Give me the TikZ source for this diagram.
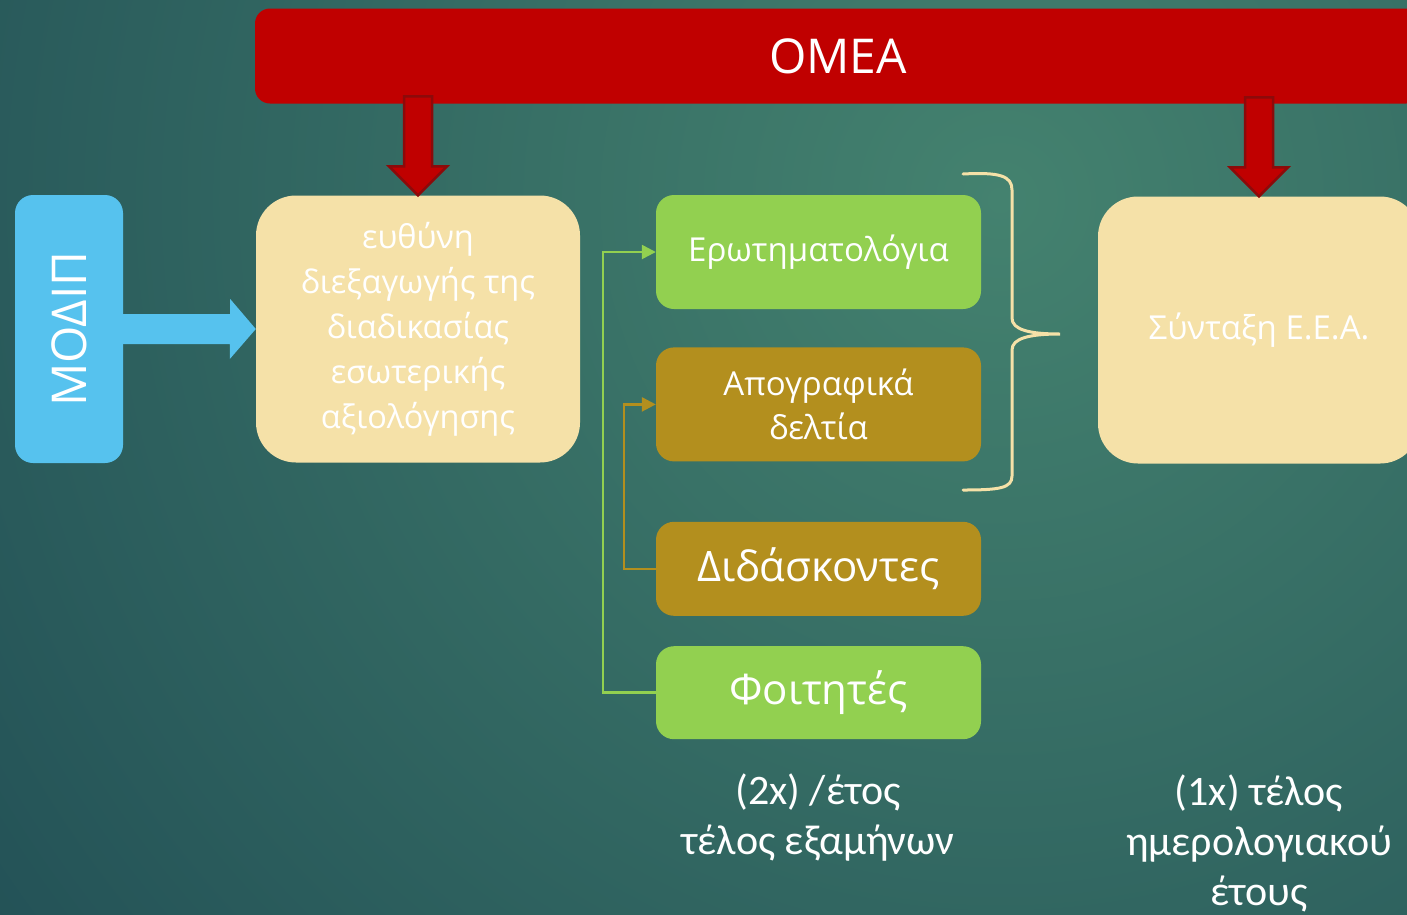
\documentclass[tikz,border=0pt]{standalone}
\usepackage{fontspec}
\setmainfont{Open Sans}
\newfontfamily\calfont{Carlito}
\usetikzlibrary{positioning, calc, arrows.meta}

\definecolor{bgin}{HTML}{44826F}
\definecolor{bgout}{HTML}{1A4450}
\definecolor{omeared}{HTML}{C00000}
\definecolor{darkred}{HTML}{8C0A0A}
\definecolor{modipblue}{HTML}{56C2EE}
\definecolor{cream}{HTML}{F5E1A8}
\definecolor{leaf}{HTML}{92D050}
\definecolor{ochre}{HTML}{B38F1E}

\begin{document}
\begin{tikzpicture}[x=1pt, y=-1pt,
  box/.style={rounded corners=18pt, inner sep=0pt, align=center, text=white},
  stepbox/.style={box, minimum width=325pt, font=\fontsize{33}{44}\selectfont},
  bigbox/.style={box, fill=cream, rounded corners=40pt, minimum height=267pt},
  link/.style={line width=2.5pt, -{Triangle[length=14pt,width=14pt]}},
  note/.style={align=center, text=white, font=\calfont\fontsize{42}{50}\selectfont}]
        \useasboundingbox (0,0) rectangle (1407,914);
        \clip (0,0) rectangle (1407,914);

        % Background
        \shade[inner color=bgin, outer color=bgout] (-600,-1400) rectangle (2600,1800);

        % Banner
        \node[box, fill=omeared, rounded corners=15pt, minimum width=1166pt, minimum height=95pt,
              font=\fontsize{48}{60}\selectfont] (omea) at (838,56) {ΟΜΕΑ};

        % Left side
        \node[box, fill=modipblue, minimum width=108pt, minimum height=268pt] (modip) at (69,329) {};
        \node[text=white, rotate=90, font=\fontsize{48}{50}\selectfont] (modiptext) at (modip) {ΜΟΔΙΠ};
        \node[bigbox, minimum width=324pt, font=\fontsize{32.5}{45}\selectfont] (resp) at (418,329)
          {ευθύνη\\διεξαγωγής της\\διαδικασίας\\εσωτερικής\\αξιολόγησης};

        % Middle column
        \node[stepbox, fill=leaf, minimum height=114pt] (erot) at (818.5,252) {Ερωτηματολόγια};
        \node[stepbox, fill=ochre, minimum height=114pt, below=38pt of erot] (apog) {Απογραφικά\\δελτία};
        \node[stepbox, fill=ochre, minimum height=94pt, below=60pt of apog,
              font=\fontsize{42}{50}\selectfont] (didask) {Διδάσκοντες};
        \node[stepbox, fill=leaf, minimum height=93pt, below=30pt of didask,
              font=\fontsize{42}{50}\selectfont] (foit) {Φοιτητές};

        % Right side
        \node[bigbox, minimum width=322pt, font=\fontsize{33}{44}\selectfont] (synt) at (1259,330) {Σύνταξη Ε.Ε.Α.};

        % Notes
        \node[note] (twice) at (818,818) {(2x) /έτος\\τέλος εξαμήνων};
        \node[note] (once) at (1259,843) {(1x) τέλος\\ημερολογιακού\\έτους};

        % Connectors
        \draw[link, leaf] (foit.west) -- ++(-53,0) |- (erot.west);
        \draw[link, ochre] (didask.west) -- ++(-32,0) |- (apog.west);

        % Block arrows
        \foreach \t in {resp, synt} {
          \filldraw[fill=omeared, draw=darkred, line width=2.5pt, line join=miter]
            (\t.north) -- ++(-29,-29) -- ++(15,0) -- ++(0,-70) -- ++(28,0)
            -- ++(0,70) -- ++(15,0) -- cycle;
        }
        \fill[modipblue] (modip.east) ++(0,-15) -- ++(107,0) -- ++(0,-15) -- (resp.west)
          -- ++(-26,30) -- ++(0,-15) -- ++(-107,0) -- cycle;

        % Brace
        \draw[cream, line width=3pt, line cap=round]
          (963,174) .. controls (1000,172) and (1012,176) .. (1012,190) -- (1012,318)
          .. controls (1012,330) and (1030,334) .. (1060,334)
          .. controls (1030,334) and (1012,338) .. (1012,350) -- (1012,476)
          .. controls (1012,488) and (1000,490) .. (963,490);
    \end{tikzpicture}
\end{document}
